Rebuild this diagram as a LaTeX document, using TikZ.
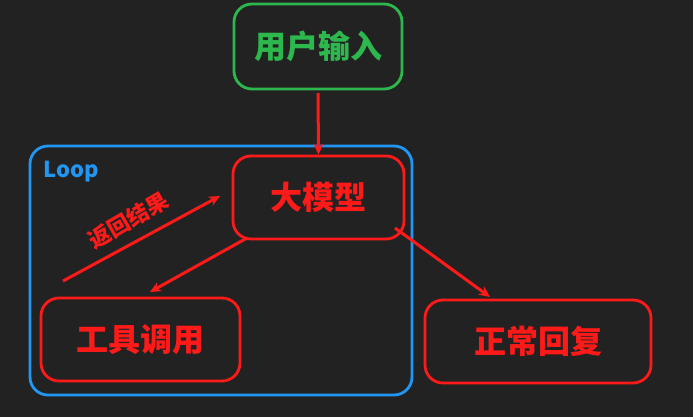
\documentclass[tikz,border=0pt]{standalone}
\usepackage{fontspec}
\setmainfont{Noto Sans CJK SC}
\usetikzlibrary{arrows.meta}
\definecolor{bg}{HTML}{222222}
\definecolor{rd}{HTML}{FF1A1A}
\definecolor{gr}{HTML}{2DB84D}
\definecolor{bl}{HTML}{2196F3}
\begin{document}
\begin{tikzpicture}[x=1pt,y=-1pt,
 box/.style={draw=rd,line width=2.8pt,rounded corners=18pt,text=rd,font=\fontsize{32}{36}\selectfont\bfseries},
 arr/.style={draw=rd,line width=3pt,-{Stealth[length=11pt,width=10pt]}}]
\fill[bg] (0,0) rectangle (693,417);
\useasboundingbox (0,0) rectangle (693,417);
\draw[bl,line width=2.8pt,rounded corners=18pt] (30,146) rectangle (412,395);
\node[text=bl,font=\fontsize{22}{24}\selectfont\bfseries,anchor=west] (loop) at (40,172) {Loop};
\node[box,draw=gr,text=gr,minimum width=168pt,minimum height=85pt] (user) at (318,46.5) {用户输入};
\node[box,minimum width=171pt,minimum height=83pt] (llm) at (318.5,197.5) {大模型};
\node[box,minimum width=199pt,minimum height=83pt] (tool) at (140.5,339.5) {工具调用};
\node[box,minimum width=226pt,minimum height=83pt] (reply) at (538,341.5) {正常回复};
\coordinate (u1) at (318,93);
\coordinate (a) at (247,238);
\coordinate (b) at (150,292);
\coordinate (c) at (395,228);
\coordinate (d) at (490,297);
\coordinate (s) at (63,281);
\coordinate (e) at (220,196);
\draw[arr] (u1) -- (llm.north);
\draw[arr] (a) -- (b);
\draw[arr] (c) -- (d);
\draw[arr] (s) -- (e);
\node[text=rd,font=\fontsize{22}{24}\selectfont\bfseries,rotate=30] (ret) at (128,220) {返回结果};
\end{tikzpicture}
\end{document}
